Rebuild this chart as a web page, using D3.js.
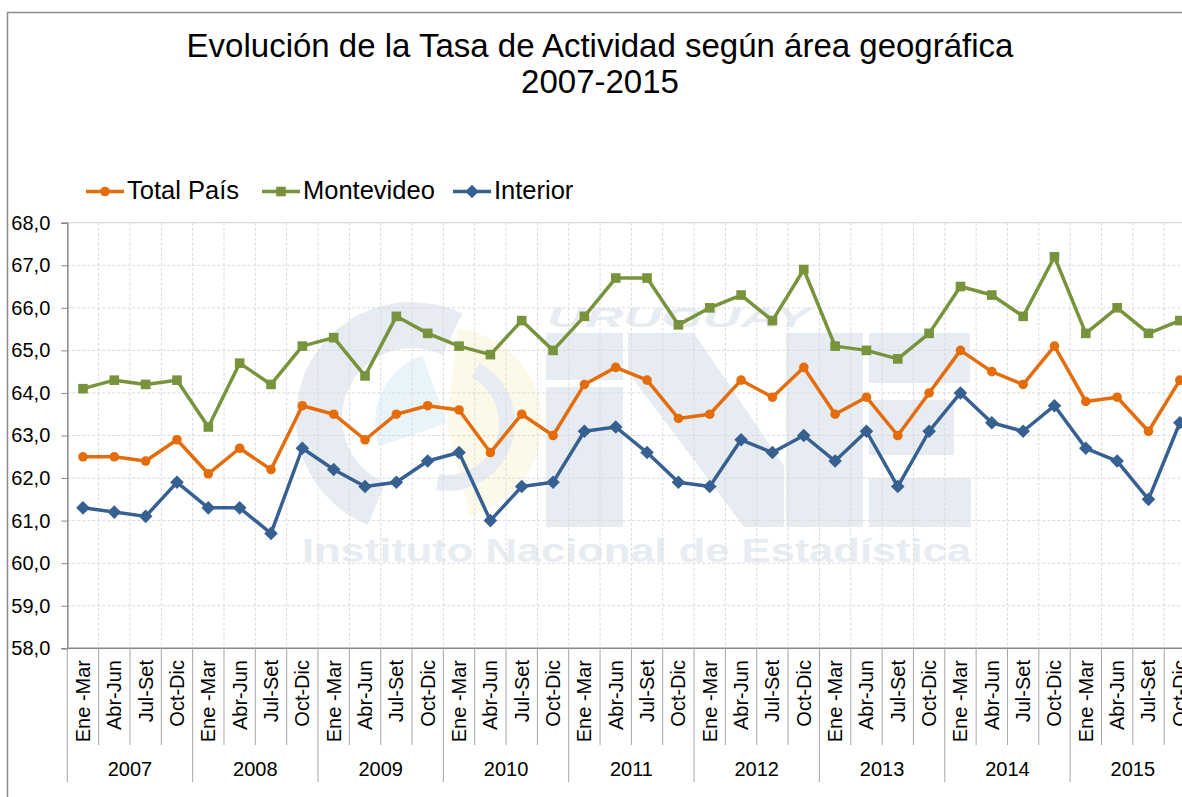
<!DOCTYPE html>
<html>
<head>
<meta charset="utf-8">
<script src="https://cdn.jsdelivr.net/npm/d3@7"></script>
<style>
  body { margin: 0; background: #fff; }
  svg { display: block; font-family: "Liberation Sans", Arial, sans-serif; }
</style>
</head>
<body>
<svg id="chart" width="1182" height="797"></svg>
<script>
const quarters = ['Ene -Mar', 'Abr-Jun', 'Jul-Set', 'Oct-Dic'];
const years = ['2007', '2008', '2009', '2010', '2011', '2012', '2013', '2014', '2015'];
const yTicks = [58, 59, 60, 61, 62, 63, 64, 65, 66, 67, 68];

const totalPais = [
  62.5, 62.5, 62.4, 62.9,
  62.1, 62.7, 62.2, 63.7,
  63.5, 62.9, 63.5, 63.7,
  63.6, 62.6, 63.5, 63.0,
  64.2, 64.6, 64.3, 63.4,
  63.5, 64.3, 63.9, 64.6,
  63.5, 63.9, 63.0, 64.0,
  65.0, 64.5, 64.2, 65.1,
  63.8, 63.9, 63.1, 64.3
];
const montevideo = [
  64.1, 64.3, 64.2, 64.3,
  63.2, 64.7, 64.2, 65.1,
  65.3, 64.4, 65.8, 65.4,
  65.1, 64.9, 65.7, 65.0,
  65.8, 66.7, 66.7, 65.6,
  66.0, 66.3, 65.7, 66.9,
  65.1, 65.0, 64.8, 65.4,
  66.5, 66.3, 65.8, 67.2,
  65.4, 66.0, 65.4, 65.7
];
const interior = [
  61.3, 61.2, 61.1, 61.9,
  61.3, 61.3, 60.7, 62.7,
  62.2, 61.8, 61.9, 62.4,
  62.6, 61.0, 61.8, 61.9,
  63.1, 63.2, 62.6, 61.9,
  61.8, 62.9, 62.6, 63.0,
  62.4, 63.1, 61.8, 63.1,
  64.0, 63.3, 63.1, 63.7,
  62.7, 62.4, 61.5, 63.3
];

const series = [
  { name: 'Total País', values: totalPais, color: '#e46c0a', marker: 'circle' },
  { name: 'Montevideo', values: montevideo, color: '#77933c', marker: 'square' },
  { name: 'Interior', values: interior, color: '#376092', marker: 'diamond' }
];

const categories = [];
years.forEach(y => quarters.forEach(q => categories.push(y + ' ' + q)));

const plotLeft = 67.3, plotRight = 1195.5, plotTop = 222.7, plotBottom = 648.3;
const gray = '#898989';

let svg = d3.select('#chart');

let x = d3.scaleBand()
  .domain(d3.range(categories.length))
  .range([plotLeft, plotRight]);
let bw = x.bandwidth();
let cx = i => x(i) + bw / 2;

let y = d3.scaleLinear()
  .domain([58, 68])
  .range([plotBottom, plotTop]);

// chart area border (left + top)
svg.append('path')
  .attr('d', 'M7.5,797V12.5H1182')
  .attr('fill', 'none')
  .attr('stroke', '#8c8c8c')
  .attr('stroke-width', 1.5);

// title
let title = svg.append('text')
  .attr('text-anchor', 'middle')
  .attr('font-size', 33)
  .attr('fill', '#000');
title.append('tspan').attr('x', 600).attr('y', 57).text('Evolución de la Tasa de Actividad según área geográfica');
title.append('tspan').attr('x', 600).attr('y', 93).text('2007-2015');

// watermark (INE logo, very faint)
let wm = svg.append('g').attr('class', 'watermark');
let arc = d3.arc();
wm.append('path')
  .attr('transform', 'translate(447,423)')
  .attr('d', arc({ innerRadius: 0, outerRadius: 95, startAngle: 0.12, endAngle: 2.9 }))
  .attr('fill', '#fdf9e9');
wm.append('path')
  .attr('transform', 'translate(447,423)')
  .attr('d', arc({ innerRadius: 0, outerRadius: 72, startAngle: -1.9, endAngle: -0.35 }))
  .attr('fill', '#e9f4fa');
wm.append('path')
  .attr('transform', 'translate(412,418)')
  .attr('d', arc({ innerRadius: 70, outerRadius: 116, startAngle: -2.75, endAngle: 0.45 }))
  .attr('fill', '#e6ecf1');
wm.append('path')
  .attr('transform', 'translate(447,423)')
  .attr('d', arc({ innerRadius: 52, outerRadius: 68, startAngle: 0.5, endAngle: 3.3 }))
  .attr('fill', '#e6ecf1');
let blocks = [
  [546, 333, 77, 47], [546, 387, 77, 140],
  [786, 333, 77, 194],
  [869, 333, 101, 50], [869, 400, 85, 55], [869, 478, 102, 49]
];
wm.selectAll('rect')
  .data(blocks)
  .enter()
  .append('rect')
  .attr('x', d => d[0])
  .attr('y', d => d[1])
  .attr('width', d => d[2])
  .attr('height', d => d[3])
  .attr('fill', '#e6ecf1');
wm.append('path')
  .attr('d', 'M628,333H694L784,466V527H744L628,372Z')
  .attr('fill', '#e6ecf1');
wm.append('text')
  .attr('x', 547).attr('y', 327)
  .attr('font-size', 28).attr('font-weight', 'bold').attr('font-style', 'italic')
  .attr('textLength', 263).attr('lengthAdjust', 'spacingAndGlyphs')
  .attr('fill', '#e6ecf1')
  .text('URUGUAY');
wm.append('text')
  .attr('x', 302).attr('y', 562)
  .attr('font-size', 34).attr('font-weight', 'bold')
  .attr('textLength', 669).attr('lengthAdjust', 'spacingAndGlyphs')
  .attr('fill', '#e6ecf1')
  .text('Instituto Nacional de Estadística');

// grid
svg.append('g')
  .selectAll('line')
  .data(yTicks.slice(1))
  .enter()
  .append('line')
  .attr('x1', plotLeft).attr('x2', plotRight)
  .attr('y1', d => y(d)).attr('y2', d => y(d))
  .attr('stroke', d => d == 68 ? '#cfcfcf' : '#d9d9d9')
  .attr('stroke-dasharray', d => d == 68 ? null : '3,2');

svg.append('g')
  .selectAll('line')
  .data(d3.range(1, categories.length))
  .enter()
  .append('line')
  .attr('x1', d => x(d)).attr('x2', d => x(d))
  .attr('y1', plotTop).attr('y2', plotBottom)
  .attr('stroke', '#d9d9d9')
  .attr('stroke-dasharray', '3,2');

// y axis
let yAxis = svg.append('g')
  .attr('transform', 'translate(' + plotLeft + ',0)')
  .call(d3.axisLeft(y)
    .tickValues(yTicks)
    .tickSize(6)
    .tickPadding(11)
    .tickFormat(d => d.toFixed(1).replace('.', ',')));
yAxis.select('.domain').attr('stroke', gray).attr('stroke-width', 1.5);
yAxis.selectAll('.tick line').attr('stroke', gray);
yAxis.selectAll('.tick text')
  .attr('font-size', 20)
  .attr('fill', '#000')
  .attr('font-family', '"Liberation Sans", Arial, sans-serif');

// x axis: line, category separators, year separators
svg.append('line')
  .attr('x1', plotLeft).attr('x2', plotRight)
  .attr('y1', plotBottom).attr('y2', plotBottom)
  .attr('stroke', gray)
  .attr('stroke-width', 1.5);

svg.append('g')
  .selectAll('line')
  .data(d3.range(0, categories.length + 1))
  .enter()
  .append('line')
  .attr('x1', d => d < categories.length ? x(d) : plotRight)
  .attr('x2', d => d < categories.length ? x(d) : plotRight)
  .attr('y1', plotBottom)
  .attr('y2', d => d % 4 == 0 ? 782 : 745)
  .attr('stroke', '#a6a6a6');

svg.append('g')
  .selectAll('text')
  .data(categories)
  .enter()
  .append('text')
  .attr('transform', (d, i) => 'translate(' + cx(i) + ',660) rotate(-90)')
  .attr('text-anchor', 'end')
  .attr('dy', '0.35em')
  .attr('font-size', 20)
  .attr('fill', '#000')
  .text((d, i) => quarters[i % 4]);

svg.append('g')
  .selectAll('text')
  .data(years)
  .enter()
  .append('text')
  .attr('x', (d, i) => x(i * 4) + bw * 2)
  .attr('y', 776)
  .attr('text-anchor', 'middle')
  .attr('font-size', 20)
  .attr('fill', '#000')
  .text(d => d);

// markers
function drawMarker(g, type, color, px, py) {
  if (type == 'circle') {
    g.append('circle').attr('cx', px).attr('cy', py).attr('r', 4.8).attr('fill', color);
  } else if (type == 'square') {
    g.append('rect').attr('x', px - 4.8).attr('y', py - 4.8).attr('width', 9.6).attr('height', 9.6).attr('fill', color);
  } else {
    g.append('path')
      .attr('d', 'M' + px + ',' + (py - 6.8) + 'L' + (px + 6.8) + ',' + py + 'L' + px + ',' + (py + 6.8) + 'L' + (px - 6.8) + ',' + py + 'Z')
      .attr('fill', color);
  }
}

let line = d3.line()
  .x((d, i) => cx(i))
  .y(d => y(d));

series.forEach(s => {
  let g = svg.append('g').attr('class', 'series');
  g.append('path')
    .datum(s.values)
    .attr('d', line)
    .attr('fill', 'none')
    .attr('stroke', s.color)
    .attr('stroke-width', 3.5)
    .attr('stroke-linejoin', 'round');
  s.values.forEach((v, i) => drawMarker(g, s.marker, s.color, cx(i), y(v)));
});

// legend
let legendX = [86, 262, 453];
series.forEach((s, i) => {
  let g = svg.append('g').attr('class', 'legend');
  g.append('line')
    .attr('x1', legendX[i]).attr('x2', legendX[i] + 38)
    .attr('y1', 191.5).attr('y2', 191.5)
    .attr('stroke', s.color)
    .attr('stroke-width', 3.5);
  drawMarker(g, s.marker, s.color, legendX[i] + 19, 191.5);
  g.append('text')
    .attr('x', legendX[i] + 41)
    .attr('y', 199)
    .attr('font-size', 25.5)
    .attr('fill', '#000')
    .text(s.name);
});
</script>
</body>
</html>
